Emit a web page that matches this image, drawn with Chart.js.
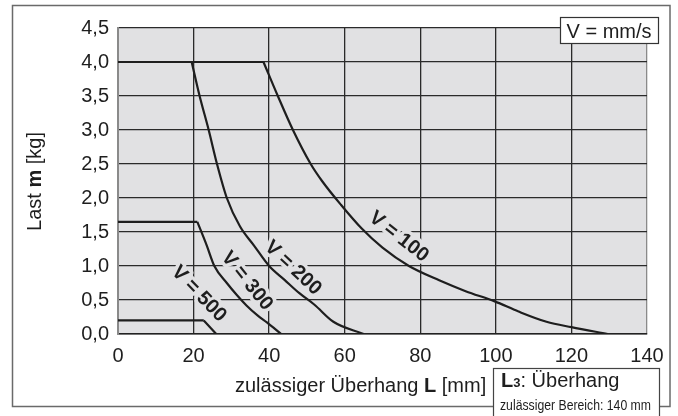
<!DOCTYPE html>
<html>
<head>
<meta charset="utf-8">
<script src="https://cdn.jsdelivr.net/npm/chart.js@4.4.0/dist/chart.umd.min.js"></script>
<style>
  body { margin: 0; background: #fff; }
  canvas { display: block; }
</style>
</head>
<body>
<canvas id="lastChart" width="678" height="416"></canvas>
<script>
// Kurven: zulässiger Überhang L [mm] vs. Last m [kg]
// first two points = flat part, rest = falling part
const v100L = [0, 38.5, 42.3, 46.3, 51, 54, 59, 64.5, 70, 77, 85, 92, 99.7, 106, 113.4, 120, 129.6];
const v100M = [4.0, 4.0, 3.5, 3.0, 2.5, 2.25, 1.9, 1.55, 1.27, 1.0, 0.79, 0.63, 0.48, 0.33, 0.18, 0.1, 0];

const v200L = [0, 19.5, 21.6, 24, 26.2, 28.8, 32.3, 36, 40, 44, 48, 52, 57, 65];
const v200M = [4.0, 4.0, 3.5, 3.0, 2.5, 2.0, 1.58, 1.3, 1.0, 0.8, 0.6, 0.43, 0.18, 0];

const v300L = [0, 21, 23.5, 25.5, 28.8, 31.5, 34, 37, 39.4, 43.2];
const v300M = [1.65, 1.65, 1.3, 1.0, 0.75, 0.57, 0.42, 0.27, 0.17, 0];

const v500L = [0, 22.7, 26];
const v500M = [0.2, 0.2, 0];

const curveNames = ['V = 100', 'V = 200', 'V = 300', 'V = 500'];
const xTicks = [0, 20, 40, 60, 80, 100, 120, 140];
const yTicks = [0, 0.5, 1.0, 1.5, 2.0, 2.5, 3.0, 3.5, 4.0, 4.5];

// where the curve names sit (data units) and their slant
const labelSpots = [
    { x: 74.3, y: 1.43, angle: 38 },
    { x: 46.3, y: 0.97, angle: 43 },
    { x: 34.1, y: 0.78, angle: 51 },
    { x: 21.4, y: 0.59, angle: 46 }
];

const FONT = "'Liberation Sans', Arial, sans-serif";
const FS = 20;
const PLOT_BG = '#e1e1e3';
const INK = '#1e1e1e';

function toPoints(xs, ys) {
    return xs.map((x, i) => ({ x: x, y: ys[i] }));
}

// each curve = flat straight piece + smooth falling piece
function curve(label, xs, ys) {
    const pts = toPoints(xs, ys);
    const base = {
        borderColor: INK,
        borderWidth: 2.2,
        pointRadius: 0,
        fill: false
    };
    return [
        Object.assign({ label: label + ' flach', data: pts.slice(0, 2), tension: 0 }, base),
        Object.assign({ label: label, data: pts.slice(1), cubicInterpolationMode: 'monotone' }, base)
    ];
}

function drawMixed(c, parts, x, y) {
    let cx = x;
    parts.forEach(p => {
        c.font = p[1];
        c.fillText(p[0], cx, y);
        cx += c.measureText(p[0]).width;
    });
}

function mixedWidth(c, parts) {
    let w = 0;
    parts.forEach(p => {
        c.font = p[1];
        w += c.measureText(p[0]).width;
    });
    return w;
}

const decorPlugin = {
    id: 'decor',
    beforeDraw(chart) {
        const c = chart.ctx;
        const a = chart.chartArea;
        c.save();
        c.fillStyle = '#fff';
        c.fillRect(0, 0, chart.width, chart.height);
        // outer frame
        c.strokeStyle = '#6a6a6a';
        c.lineWidth = 1.5;
        c.strokeRect(12.5, 5.5, 657.5, 401);
        // plot background
        c.fillStyle = PLOT_BG;
        c.fillRect(a.left, a.top, a.right - a.left, a.bottom - a.top);
        c.restore();
    },
    beforeDatasetsDraw(chart) {
        const c = chart.ctx;
        const xs = chart.scales.x;
        const ys = chart.scales.y;
        c.save();
        c.font = 'bold ' + FS + 'px ' + FONT;
        c.textAlign = 'center';
        c.textBaseline = 'middle';
        curveNames.forEach((name, i) => {
            const s = labelSpots[i];
            c.save();
            c.translate(xs.getPixelForValue(s.x), ys.getPixelForValue(s.y));
            c.rotate(s.angle * Math.PI / 180);
            c.lineWidth = 7;
            c.lineJoin = 'round';
            c.strokeStyle = PLOT_BG;
            c.strokeText(name, 0, 0);
            c.fillStyle = INK;
            c.fillText(name, 0, 0);
            c.restore();
        });
        c.restore();
    },
    afterDraw(chart) {
        const c = chart.ctx;
        const reg = FS + 'px ' + FONT;
        const bold = 'bold ' + FS + 'px ' + FONT;
        c.save();
        c.fillStyle = INK;
        c.textBaseline = 'alphabetic';
        c.textAlign = 'left';

        // y axis title, rotated
        const yParts = [['Last ', reg], ['m', bold], [' [kg]', reg]];
        const yw = mixedWidth(c, yParts);
        c.save();
        c.translate(41, 181.5);
        c.rotate(-Math.PI / 2);
        drawMixed(c, yParts, -yw / 2, 0);
        c.restore();

        // x axis title
        drawMixed(c, [['zulässiger Überhang ', reg], ['L', bold], [' [mm]', reg]], 235, 391.5);

        // unit box
        c.fillStyle = '#fff';
        c.fillRect(560, 17, 98, 26);
        c.strokeStyle = '#333';
        c.lineWidth = 1.2;
        c.strokeRect(560.5, 17.5, 98, 26);
        c.fillStyle = INK;
        c.font = reg;
        c.fillText('V = mm/s', 566.5, 37.5, 88);

        // overhang box at bottom right
        c.fillStyle = '#fff';
        c.fillRect(493, 368, 167, 60);
        c.strokeStyle = '#444';
        c.lineWidth = 1.2;
        c.strokeRect(493.5, 368.5, 166, 60);
        c.fillStyle = INK;
        drawMixed(c, [['L', bold], ['3', 'bold 13px ' + FONT], [': Überhang', reg]], 501, 386.5);
        c.font = "14px 'Liberation Sans Narrow', " + FONT;
        c.fillText('zulässiger Bereich: 140 mm', 500, 410, 151);
        c.restore();
    }
};

const ctx = document.getElementById('lastChart').getContext('2d');
const lastChart = new Chart(ctx, {
    type: 'line',
    data: {
        datasets: [].concat(
            curve(curveNames[0], v100L, v100M),
            curve(curveNames[1], v200L, v200M),
            curve(curveNames[2], v300L, v300M),
            curve(curveNames[3], v500L, v500M)
        )
    },
    options: {
        responsive: false,
        animation: false,
        layout: {
            padding: { top: 28, right: 31, left: 0, bottom: 0 }
        },
        plugins: {
            legend: { display: false },
            tooltip: { enabled: false }
        },
        scales: {
            x: {
                type: 'linear',
                min: xTicks[0],
                max: xTicks[xTicks.length - 1],
                afterBuildTicks: function(scale) {
                    scale.ticks = xTicks.map(v => ({ value: v }));
                },
                afterFit: function(scale) {
                    scale.height = 82;
                },
                ticks: {
                    color: INK,
                    padding: 10,
                    font: { family: FONT, size: FS }
                },
                grid: {
                    drawTicks: false,
                    lineWidth: 1.3,
                    color: function(context) {
                        return context.tick && context.tick.value === 140 ? '#8a8a8a' : '#2a2a2a';
                    }
                },
                border: { color: '#222', width: 1.5 }
            },
            y: {
                min: yTicks[0],
                max: yTicks[yTicks.length - 1],
                afterBuildTicks: function(scale) {
                    scale.ticks = yTicks.map(v => ({ value: v }));
                },
                afterFit: function(scale) {
                    scale.width = 118;
                },
                ticks: {
                    color: INK,
                    padding: 9,
                    font: { family: FONT, size: FS },
                    callback: function(value) {
                        return value.toFixed(1).replace('.', ',');
                    }
                },
                grid: {
                    drawTicks: false,
                    lineWidth: 1.3,
                    color: '#2a2a2a'
                },
                border: { color: '#8a8a8a', width: 2 }
            }
        }
    },
    plugins: [decorPlugin]
});
</script>
</body>
</html>
